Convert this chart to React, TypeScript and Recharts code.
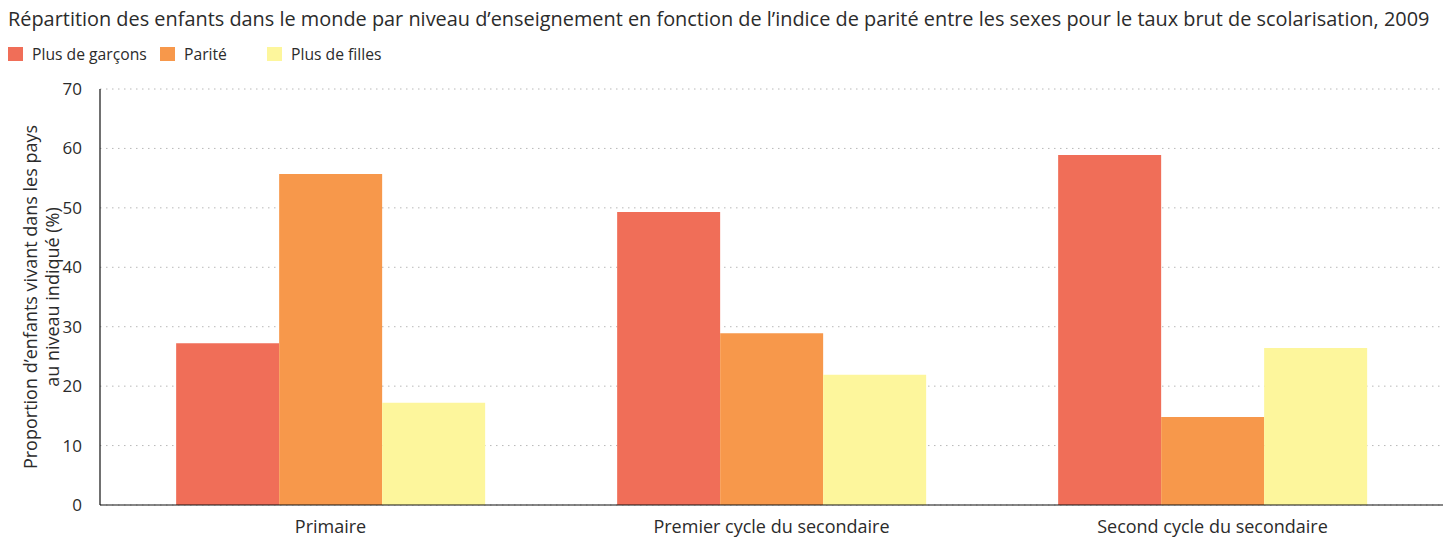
import { BarChart, Bar, XAxis, YAxis, CartesianGrid } from 'recharts'

const levels = ['Primaire', 'Premier cycle du secondaire', 'Second cycle du secondaire']
const moreBoys = [27.2, 49.3, 58.9]
const parity = [55.7, 28.9, 14.8]
const moreGirls = [17.2, 21.9, 26.4]
const yTicks = [0, 10, 20, 30, 40, 50, 60, 70]

const series = [
    { key: 'boys', name: 'Plus de garçons', color: '#f06e58' },
    { key: 'parity', name: 'Parité', color: '#f7984b' },
    { key: 'girls', name: 'Plus de filles', color: '#fdf69c' },
]

const data = levels.map((level, i) => ({
    level,
    boys: moreBoys[i],
    parity: parity[i],
    girls: moreGirls[i],
}))

const FONT = '"Open Sans", sans-serif'
const TEXT = '#2b2b2b'

// legend entries spaced like the original (fixed column starts)
const legendX = [0, 152, 259]

function LegendRow() {
    return (
        <div style={{ position: 'absolute', left: 8, top: 43, height: 20, fontFamily: FONT, fontSize: 15.7, color: TEXT }}>
            {series.map((s, i) => (
                <div key={s.key} style={{ position: 'absolute', left: legendX[i], top: 0, display: 'flex', alignItems: 'center', whiteSpace: 'nowrap' }}>
                    <span style={{ width: 15, height: 14, background: s.color, display: 'inline-block', marginRight: 9 }} />
                    <span>{s.name}</span>
                </div>
            ))}
        </div>
    )
}

function YLabel(props: any) {
    const { viewBox } = props
    const cy = viewBox.y + viewBox.height / 2
    return (
        <g>
            <text x={30} y={cy} transform={`rotate(-90, 30, ${cy})`} textAnchor="middle" dominantBaseline="central"
                fontFamily={FONT} fontSize={18} fill={TEXT}>
                Proportion d’enfants vivant dans les pays
            </text>
            <text x={52} y={cy} transform={`rotate(-90, 52, ${cy})`} textAnchor="middle" dominantBaseline="central"
                fontFamily={FONT} fontSize={18} fill={TEXT}>
                au niveau indiqué (%)
            </text>
        </g>
    )
}

export default function App() {
    return (
        <div style={{ position: 'absolute', left: 0, top: 0, width: 1450, height: 541, background: '#fff' }}>
            <div style={{ position: 'absolute', left: 8, top: 5, fontFamily: FONT, fontSize: 19.9, color: TEXT, whiteSpace: 'nowrap' }}>
                Répartition des enfants dans le monde par niveau d’enseignement en fonction de l’indice de parité entre les sexes pour le taux brut de scolarisation, 2009
            </div>
            <LegendRow />
            <div style={{ position: 'absolute', left: 0, top: 0 }}>
                <BarChart
                    width={1450}
                    height={541}
                    data={data}
                    margin={{ top: 89, right: 7, bottom: 6, left: 0 }}
                    barCategoryGap="15%"
                    barGap={0}
                >
                    <CartesianGrid vertical={false} stroke="#b8b8b8" strokeDasharray="1.5 4.5" />
                    <XAxis
                        dataKey="level"
                        height={30}
                        padding={{ left: 10, right: 10 }}
                        axisLine={{ stroke: '#111', strokeWidth: 1.2 }}
                        tickLine={false}
                        tick={{ fontFamily: FONT, fontSize: 18, fill: TEXT }}
                        tickMargin={9}
                    />
                    <YAxis
                        width={100}
                        domain={[0, 70]}
                        ticks={yTicks}
                        axisLine={{ stroke: '#111', strokeWidth: 1.2 }}
                        tickLine={false}
                        tickMargin={12}
                        tick={{ fontFamily: FONT, fontSize: 17, fill: TEXT }}
                        label={<YLabel />}
                    />
                    {series.map(s => (
                        <Bar key={s.key} dataKey={s.key} name={s.name} fill={s.color} isAnimationActive={false} />
                    ))}
                </BarChart>
            </div>
        </div>
    )
}
